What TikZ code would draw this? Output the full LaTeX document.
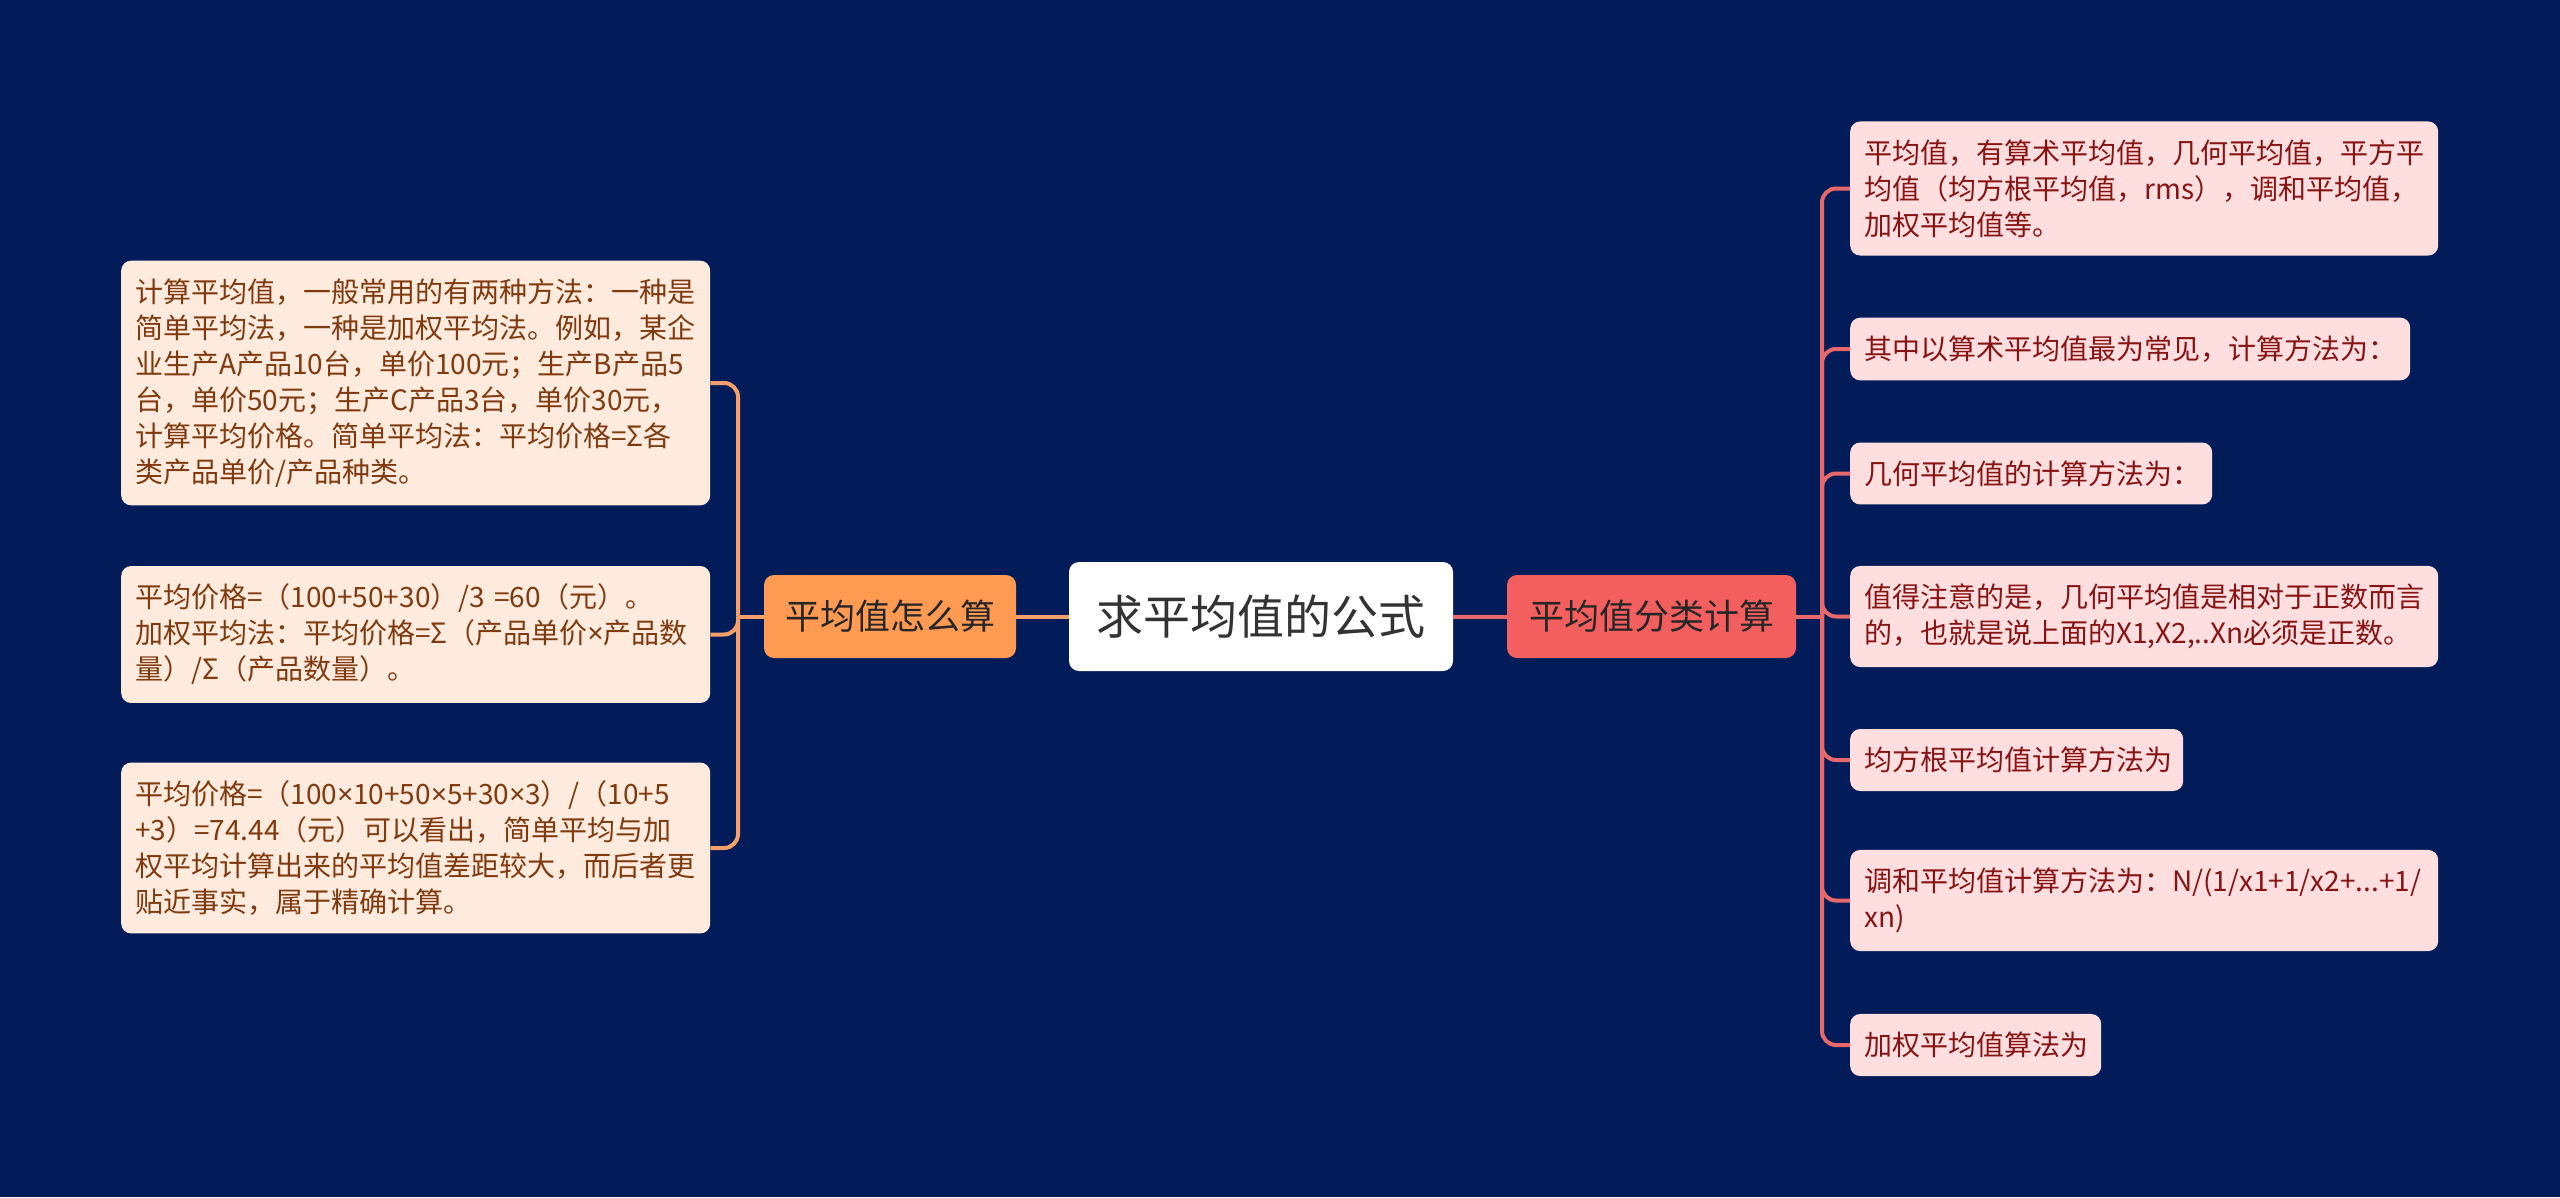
\documentclass[tikz,border=0pt]{standalone}
\usepackage{fontspec}
\setmainfont{Noto Sans CJK SC}
\newfontfamily\latinfont{Noto Sans}
\newcommand{\mytimes}{{\latinfont ×}}
\definecolor{bgc}{RGB}{1,28,88}
\definecolor{lmainc}{RGB}{255,154,83}
\definecolor{rmainc}{RGB}{243,94,94}
\definecolor{lleafc}{RGB}{255,235,221}
\definecolor{rleafc}{RGB}{255,222,223}
\definecolor{ltextc}{RGB}{128,58,16}
\definecolor{rtextc}{RGB}{135,20,20}
\definecolor{llinec}{RGB}{245,160,106}
\definecolor{rlinec}{RGB}{232,105,107}
\tikzset{
  leafbox/.style={rounded corners=10pt, inner xsep=14pt, inner ysep=18pt, align=left, anchor=west, font=\fontsize{28}{36}\selectfont},
  lleaf/.style={leafbox, fill=lleafc, text=ltextc},
  rleaf/.style={leafbox, fill=rleafc, text=rtextc},
  mainbox/.style={rounded corners=10pt, inner sep=0pt, text=black!85, font=\fontsize{35}{42}\selectfont},
  lconn/.style={draw=llinec, line width=4pt, rounded corners=14pt},
  rconn/.style={draw=rlinec, line width=4pt, rounded corners=14pt}
}
\begin{document}
\begin{tikzpicture}[x=1pt, y=-1pt]
\useasboundingbox (0,0) rectangle (2560,1197);
\fill[bgc] (0,0) rectangle (2560,1197);

% center and main nodes
\node[mainbox, fill=white, minimum width=384pt, minimum height=109pt, font=\fontsize{47}{56}\selectfont, text=black!80] (c) at (1261,616.5) {求平均值的公式};
\node[mainbox, fill=lmainc, minimum width=252pt, minimum height=83pt] (lm) at (890,616.5) {平均值怎么算};
\node[mainbox, fill=rmainc, minimum width=289pt, minimum height=83pt] (rm) at (1651.5,616.5) {平均值分类计算};

% left leaves
\node[lleaf, text width=561pt] (l1) at (121,383) {计算平均值，一般常用的有两种方法：一种是\\简单平均法，一种是加权平均法。例如，某企\\业生产A产品10台，单价100元；生产B产品5\\台，单价50元；生产C产品3台，单价30元，\\计算平均价格。简单平均法：平均价格=Σ各\\类产品单价/产品种类。};
\node[lleaf, text width=561pt] (l2) at (121,634.5) {平均价格=（100+50+30）/3~=60（元）。\\加权平均法：平均价格=Σ（产品单价\mytimes 产品数\\量）/Σ（产品数量）。};
\node[lleaf, text width=561pt] (l3) at (121,848) {平均价格=（100\mytimes 10+50\mytimes 5+30\mytimes 3）/（10+5\\+3）=74.44（元）可以看出，简单平均与加\\权平均计算出来的平均值差距较大，而后者更\\贴近事实，属于精确计算。};

% right leaves
\node[rleaf, text width=560pt] (r1) at (1850,188.5) {平均值，有算术平均值，几何平均值，平方平\\均值（均方根平均值，rms），调和平均值，\\加权平均值等。};
\node[rleaf, text width=532pt] (r2) at (1850,349) {其中以算术平均值最为常见，计算方法为：};
\node[rleaf, text width=334pt] (r3) at (1850,473.5) {几何平均值的计算方法为：};
\node[rleaf, text width=560pt] (r4) at (1850,616.5) {值得注意的是，几何平均值是相对于正数而言\\的，也就是说上面的X1,X2,..Xn必须是正数。};
\node[rleaf, text width=305pt] (r5) at (1850,760) {均方根平均值计算方法为};
\node[rleaf, text width=560pt] (r6) at (1850,900.5) {调和平均值计算方法为：N/(1/x1+1/x2+...+1/\\xn)};
\node[rleaf, text width=223pt] (r7) at (1850,1045) {加权平均值算法为};

% connectors
\draw[lconn] (c.west) -- (lm.east);
\draw[rconn] (c.east) -- (rm.west);
\coordinate (lj) at (738,616.5);
\coordinate (rj) at (1822,616.5);
\draw[lconn] (lm.west) -- (lj);
\draw[rconn] (rm.east) -- (rj);
\foreach \n in {l1,l2,l3} { \draw[lconn] (lj) |- (\n.east); }
\foreach \n in {r1,r2,r3,r4,r5,r6,r7} { \draw[rconn] (rj) |- (\n.west); }
\end{tikzpicture}
\end{document}
